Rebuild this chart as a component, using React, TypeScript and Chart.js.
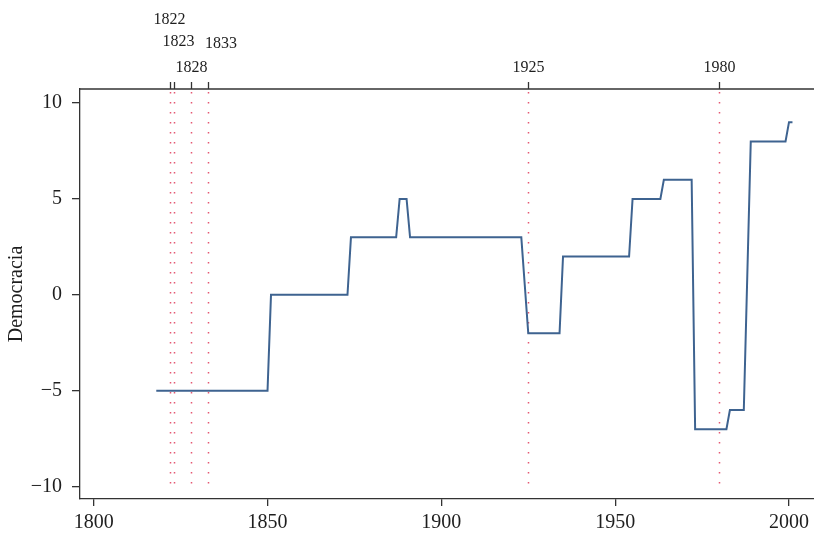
import React, { useEffect, useRef } from "react";
import { Chart, registerables } from "chart.js";

Chart.register(...registerables);

// ---- data ----
const years = [
  1818, 1850, 1851, 1873, 1874, 1887, 1888, 1890, 1891, 1923, 1924, 1925, 1934,
  1935, 1954, 1955, 1963, 1964, 1972, 1973, 1982, 1983, 1987, 1988, 1989, 1999,
  2000, 2001,
];
const democracia = [
  -5, -5, 0, 0, 3, 3, 5, 5, 3, 3, 0.5, -2, -2, 2, 2, 5, 5, 6, 6, -7, -7, -6, -6,
  1, 8, 8, 9, 9,
];
const constitutionYears = [1822, 1823, 1828, 1833, 1925, 1980];
const xTicks = [1800, 1850, 1900, 1950, 2000];
const yTicks = [-10, -5, 0, 5, 10];
const yTitle = "Democracia";

// ---- styling ----
const FONT = "'Liberation Serif', 'Times New Roman', serif";
const AXIS = "#333333";
const TEXT = "#1e1e1e";
const LINE = "#3e6390";
const DOT = "rgba(226, 70, 100, 0.9)";
// label placement for the staggered top labels (dx from tick, y centre)
const topLabelPlacement: Record<number, { dx: number; y: number }> = {
  1822: { dx: -1, y: 20 },
  1823: { dx: 4, y: 42 },
  1828: { dx: 0, y: 68 },
  1833: { dx: 12.5, y: 44 },
  1925: { dx: 0, y: 68 },
  1980: { dx: 0, y: 68 },
};

const constitutionPlugin = {
  id: "constitutions",
  beforeDatasetsDraw(chart: any) {
    const { ctx, chartArea, scales } = chart;
    const xs = scales.x;
    ctx.save();
    ctx.strokeStyle = DOT;
    ctx.lineWidth = 1.5;
    ctx.setLineDash([1.5, 8.5]);
    for (const yr of constitutionYears) {
      const px = Math.round(xs.getPixelForValue(yr)) + 0.5;
      ctx.beginPath();
      ctx.moveTo(px, chartArea.top + 3);
      ctx.lineTo(px, chartArea.bottom - 10);
      ctx.stroke();
    }
    ctx.restore();
  },
  afterDraw(chart: any) {
    const { ctx, chartArea, scales } = chart;
    const xs = scales.x;
    ctx.save();
    ctx.strokeStyle = AXIS;
    ctx.lineWidth = 1.3;
    ctx.beginPath();
    ctx.moveTo(chartArea.left, chartArea.top);
    ctx.lineTo(chart.width, chartArea.top);
    ctx.stroke();
    ctx.font = `16px ${FONT}`;
    ctx.fillStyle = TEXT;
    ctx.textAlign = "center";
    ctx.textBaseline = "middle";
    for (const yr of constitutionYears) {
      const px = Math.round(xs.getPixelForValue(yr)) + 0.5;
      ctx.beginPath();
      ctx.moveTo(px, chartArea.top - 7);
      ctx.lineTo(px, chartArea.top);
      ctx.stroke();
      const pl = topLabelPlacement[yr] || { dx: 0, y: 68 };
      ctx.fillText(String(yr), px + pl.dx, pl.y);
    }
    ctx.restore();
  },
};

export default function App() {
  const ref = useRef<HTMLCanvasElement | null>(null);

  useEffect(() => {
    if (!ref.current) return;
    const chart = new Chart(ref.current, {
      type: "line",
      data: {
        datasets: [
          {
            data: years.map((x, i) => ({ x, y: democracia[i] })),
            borderColor: LINE,
            borderWidth: 2,
            pointRadius: 0,
            fill: false,
            tension: 0,
          },
        ],
      },
      options: {
        animation: false,
        responsive: false,
        maintainAspectRatio: false,
        devicePixelRatio: 1,
        layout: { padding: { top: 89, left: 0, right: 0, bottom: 0 } },
        plugins: {
          legend: { display: false },
          tooltip: { enabled: false },
        },
        scales: {
          x: {
            type: "linear",
            min: 1796.06,
            max: 2007.1,
            afterBuildTicks: (s: any) => {
              s.ticks = xTicks.map((v) => ({ value: v }));
            },
            afterFit: (s: any) => {
              s.height = 36;
            },
            grid: {
              display: true,
              drawOnChartArea: false,
              drawTicks: true,
              tickLength: 7,
              color: AXIS,
              lineWidth: 1.3,
            },
            border: { display: true, color: AXIS, width: 1.3 },
            ticks: {
              font: { family: FONT, size: 20 },
              color: TEXT,
              padding: 5,
              maxRotation: 0,
              autoSkip: false,
              callback: (v: any) => String(v),
            },
          },
          y: {
            type: "linear",
            min: -10.64,
            max: 10.73,
            afterBuildTicks: (s: any) => {
              s.ticks = yTicks.map((v) => ({ value: v }));
            },
            afterFit: (s: any) => {
              s.width = 80;
            },
            title: {
              display: true,
              text: yTitle,
              font: { family: FONT, size: 20 },
              color: TEXT,
              padding: { top: 5, bottom: 0 },
            },
            grid: {
              display: true,
              drawOnChartArea: false,
              drawTicks: true,
              tickLength: 8,
              color: AXIS,
              lineWidth: 1.3,
            },
            border: { display: true, color: AXIS, width: 1.3 },
            ticks: {
              font: { family: FONT, size: 20 },
              color: TEXT,
              padding: 10,
              autoSkip: false,
              callback: (v: any) =>
                v < 0 ? "\u2212" + Math.abs(v) : String(v),
            },
          },
        },
      },
      plugins: [constitutionPlugin],
    } as any);
    return () => chart.destroy();
  }, []);

  return (
    <div
      style={{
        position: "fixed",
        left: 0,
        top: 0,
        width: 814,
        height: 535,
        background: "#ffffff",
      }}
    >
      <canvas
        ref={ref}
        width={814}
        height={535}
        style={{ display: "block", width: 814, height: 535 }}
      />
    </div>
  );
}
